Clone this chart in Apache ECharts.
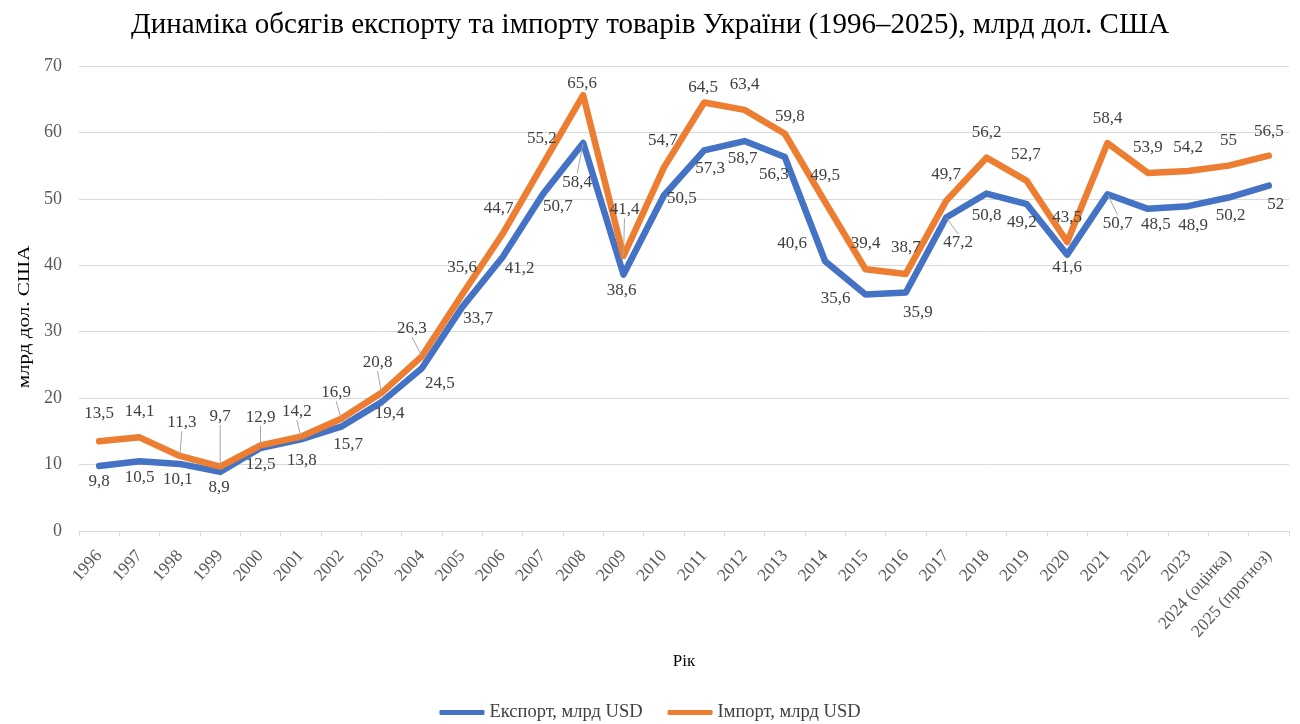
<!DOCTYPE html>
<html>
<head>
<meta charset="utf-8">
<script src="https://cdn.jsdelivr.net/npm/echarts@6/dist/echarts.min.js"></script>
<style>
html,body{margin:0;padding:0;background:#fff;}
#chart{width:1300px;height:724px;}
</style>
</head>
<body>
<div id="chart"></div>
<script>
// ---- data ----
const years = ['1996','1997','1998','1999','2000','2001','2002','2003','2004','2005','2006','2007','2008','2009','2010','2011','2012','2013','2014','2015','2016','2017','2018','2019','2020','2021','2022','2023','2024 (оцінка)','2025 (прогноз)'];
const exportValues = [9.8,10.5,10.1,8.9,12.5,13.8,15.7,19.4,24.5,33.7,41.2,50.7,58.4,38.6,50.5,57.3,58.7,56.3,40.6,35.6,35.9,47.2,50.8,49.2,41.6,50.7,48.5,48.9,50.2,52];
const importValues = [13.5,14.1,11.3,9.7,12.9,14.2,16.9,20.8,26.3,35.6,44.7,55.2,65.6,41.4,54.7,64.5,63.4,59.8,49.5,39.4,38.7,49.7,56.2,52.7,43.5,58.4,53.9,54.2,55,56.5];
const yTicks = [0,10,20,30,40,50,60,70];

// ---- label layout (pixel offsets of label centre from point) ----
const exportLabelOffsets = [[0,16],[0,16],[-2,16],[-1,16],[0,17],[1,21],[7,18],[8,11],[18,15],[16,11],[17,11],[15,12],[-6,39],[-2,16],[18,3],[6,18],[-2,17],[-11,18],[-33,-18],[-30,4],[12,20],[12,25],[0,22],[-5,18],[0,13],[10,29],[8,16],[5,19],[2,18],[7,19]];
const importLabelOffsets = [[0,-28],[0,-26],[2,-33],[0,-50],[0,-28],[-4,-25],[-5,-26],[-4,-30],[-10,-28],[0,-27],[-4,-26],[-1,-26],[-1,-12],[1,-46],[-1,-27],[-1,-15],[0,-25],[5,-17],[0,-27],[0,-26],[0,-26],[0,-26],[0,-25],[-1,-26],[0,-25],[0,-25],[0,-25],[0,-23],[0,-25],[0,-24]];
const exportLeader = [12,21,25];
const importLeader = [2,3,4,5,6,7,8,13];

const FONT = "'Liberation Serif','Times New Roman',serif";
const fmt = v => String(v).replace('.', ',');

function buildData(values, leaders) {
  return values.map((v, i) => ({
    value: v,
    labelLine: { show: leaders.indexOf(i) >= 0 }
  }));
}

function makeSeries(name, values, color, offsets, leaders) {
  return {
    name: name,
    type: 'line',
    data: buildData(values, leaders),
    symbol: 'circle',
    symbolSize: 1,
    showSymbol: true,
    itemStyle: { color: color },
    lineStyle: { color: color, width: 6.5, join: 'round', cap: 'round' },
    label: {
      show: true,
      position: 'inside',
      formatter: p => fmt(p.value),
      fontFamily: FONT,
      fontSize: 17,
      color: '#404040'
    },
    labelLine: {
      show: false,
      lineStyle: { color: '#a6a6a6', width: 1 }
    },
    labelLayout: function (params) {
      const o = offsets[params.dataIndex];
      return { dx: o[0], dy: o[1] };
    },
    emphasis: { disabled: true },
    animation: false
  };
}

const chart = echarts.init(document.getElementById('chart'), null, { renderer: 'canvas' });
chart.setOption({
  backgroundColor: '#ffffff',
  animation: false,
  title: {
    text: 'Динаміка обсягів експорту та імпорту товарів України (1996–2025), млрд дол. США',
    left: 'center',
    top: 6,
    textStyle: { fontFamily: FONT, fontSize: 29, fontWeight: 'normal', color: '#000' }
  },
  legend: {
    top: 698,
    left: 'center',
    itemWidth: 45,
    itemHeight: 5,
    itemGap: 25,
    icon: 'roundRect',
    textStyle: { fontFamily: FONT, fontSize: 18.5, color: '#404040' },
    data: ['Експорт, млрд USD', 'Імпорт, млрд USD']
  },
  grid: { left: 79, right: 11, top: 66, bottom: 193, containLabel: false },
  xAxis: {
    type: 'category',
    data: years,
    boundaryGap: true,
    name: 'Рік',
    nameLocation: 'middle',
    nameGap: 122,
    nameTextStyle: { fontFamily: FONT, fontSize: 17, color: '#000' },
    axisLine: { lineStyle: { color: '#d9d9d9', width: 1 } },
    axisTick: { show: true, length: 5, lineStyle: { color: '#d9d9d9' } },
    axisLabel: { rotate: 48, interval: 0, fontFamily: FONT, fontSize: 17.5, color: '#595959', margin: 22 }
  },
  yAxis: {
    type: 'value',
    min: yTicks[0],
    max: yTicks[yTicks.length - 1],
    interval: 10,
    axisLine: { show: false },
    axisTick: { show: false },
    splitLine: { lineStyle: { color: '#d9d9d9', width: 1 } },
    axisLabel: { fontFamily: FONT, fontSize: 18, color: '#595959', margin: 17 }
  },
  graphic: [{
    type: 'text',
    x: 25,
    y: 317,
    rotation: Math.PI / 2,
    scaleX: 1.24,
    style: {
      text: 'млрд дол. США',
      fontFamily: FONT,
      fontSize: 17,
      fill: '#000',
      align: 'center',
      verticalAlign: 'middle'
    }
  }],
  series: [
    makeSeries('Експорт, млрд USD', exportValues, '#4472C4', exportLabelOffsets, exportLeader),
    makeSeries('Імпорт, млрд USD', importValues, '#ED7D31', importLabelOffsets, importLeader)
  ]
});
</script>
</body>
</html>
